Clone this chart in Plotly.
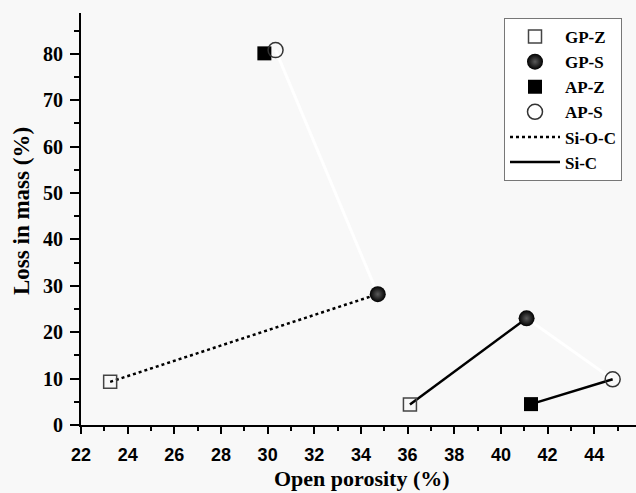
import plotly.graph_objects as go

# Data (open porosity %, loss in mass %)
gpz_x = [23.25, 36.1]
gpz_y = [9.3, 4.4]
gps_x = [34.72, 41.1]
gps_y = [28.2, 23.0]
apz_x = [29.86, 41.29]
apz_y = [80.1, 4.5]
aps_x = [30.34, 44.79]
aps_y = [80.8, 9.85]

# Line connections
sioc_x = [23.25, 34.72]
sioc_y = [9.3, 28.2]
sic_x = [36.1, 41.1, None, 41.29, 44.79]
sic_y = [4.4, 23.0, None, 4.5, 9.85]
faint_x = [30.34, 34.72, None, 41.1, 44.79]
faint_y = [80.8, 28.2, None, 23.0, 9.85]

x_ticks = list(range(22, 46, 2))
y_ticks = list(range(0, 90, 10))

serif = "Liberation Serif"
sans = "Liberation Sans"
bg = "#f8f8f8"

fig = go.Figure()

fig.add_trace(go.Scatter(x=faint_x, y=faint_y, mode="lines",
                         line=dict(color="white", width=3),
                         showlegend=False, hoverinfo="skip"))
fig.add_trace(go.Scatter(x=sioc_x, y=sioc_y, mode="lines", name="Si-O-C",
                         line=dict(color="black", width=2.5, dash="3px,3px"),
                         legendrank=5))
fig.add_trace(go.Scatter(x=sic_x, y=sic_y, mode="lines", name="Si-C",
                         line=dict(color="black", width=2.5),
                         legendrank=6))

fig.add_trace(go.Scatter(x=gpz_x, y=gpz_y, mode="markers", name="GP-Z",
                         marker=dict(symbol="square-open", size=13,
                                     color="#444", line=dict(width=1.5, color="#444")),
                         legendrank=1))
fig.add_trace(go.Scatter(x=gps_x, y=gps_y, mode="markers", name="GP-S",
                         marker=dict(symbol="circle", size=16, color="black",
                                     gradient=dict(type="radial", color="#5a5a5a"),
                                     line=dict(width=0)),
                         legendrank=2))
fig.add_trace(go.Scatter(x=apz_x, y=apz_y, mode="markers", name="AP-Z",
                         marker=dict(symbol="square", size=14, color="black",
                                     line=dict(width=0)),
                         legendrank=3))
fig.add_trace(go.Scatter(x=aps_x, y=aps_y, mode="markers", name="AP-S",
                         marker=dict(symbol="circle-open", size=15,
                                     color="#333", line=dict(width=1.5, color="#333")),
                         legendrank=4))

fig.update_layout(
    width=636, height=493,
    margin=dict(l=81, r=0, t=13, b=68),
    paper_bgcolor=bg, plot_bgcolor=bg,
    font=dict(family=serif, color="black"),
    legend=dict(x=(504 - 81) / 555, y=(425 - 18) / 412, xanchor="left", yanchor="top",
                bgcolor="white", bordercolor="#777", borderwidth=1,
                font=dict(family=serif, size=17, weight="bold", color="black"),
                tracegroupgap=0, itemwidth=50),
    showlegend=True,
)

fig.update_xaxes(range=[22, 45.79], tickvals=x_ticks, ticktext=[str(v) for v in x_ticks],
                 showgrid=False, zeroline=False, showline=True,
                 linecolor="black", linewidth=2,
                 ticks="outside", ticklen=7, tickwidth=1.5, tickcolor="black",
                 ticklabelstandoff=5,
                 tickfont=dict(family=sans, size=18, weight="bold", color="black"),
                 minor=dict(dtick=1, tick0=22, ticks="outside", ticklen=4,
                            tickwidth=1.5, tickcolor="black"))
fig.update_yaxes(range=[0, 88.8], tickvals=y_ticks, ticktext=[str(v) for v in y_ticks],
                 showgrid=False, zeroline=False, showline=True,
                 linecolor="black", linewidth=2,
                 ticks="outside", ticklen=9, tickwidth=1.5, tickcolor="black",
                 ticklabelstandoff=3,
                 tickfont=dict(family=serif, size=20, weight="bold", color="black"),
                 minor=dict(dtick=5, tick0=0, ticks="outside", ticklen=5,
                            tickwidth=1.5, tickcolor="black"))

fig.add_annotation(text="Open porosity (%)", xref="paper", yref="paper",
                   x=(362 - 81) / 555, y=-(478 - 425) / 412, xanchor="center", yanchor="middle",
                   showarrow=False,
                   font=dict(family=serif, size=22, weight="bold", color="black"))
fig.add_annotation(text="Loss in mass (%)", xref="paper", yref="paper",
                   x=-(81 - 21) / 555, y=(425 - 211) / 412, xanchor="center", yanchor="middle",
                   textangle=-90, showarrow=False,
                   font=dict(family=serif, size=23, weight="bold", color="black"))

fig.write_html("out.html", post_script="document.body.style.margin='0';",
               config={"displayModeBar": False})
